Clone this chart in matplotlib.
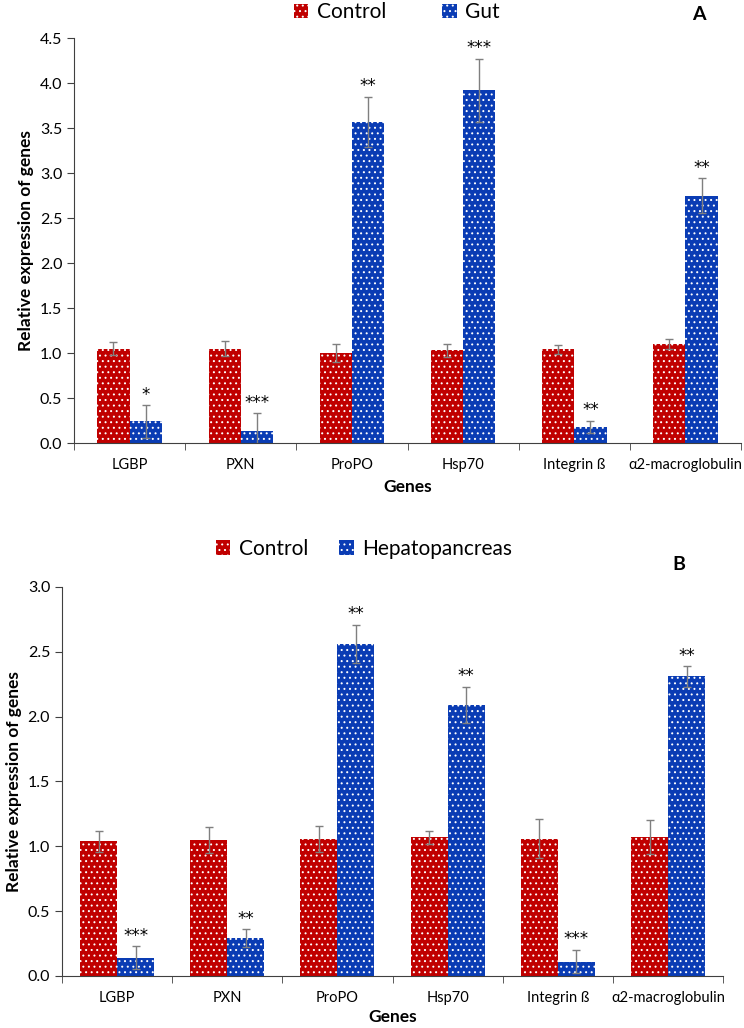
import matplotlib
matplotlib.use("Agg")
import matplotlib.pyplot as plt
import numpy as np

plt.rcParams['font.family'] = ['Lato', 'DejaVu Sans']
plt.rcParams['hatch.linewidth'] = 0.7

genes = ["LGBP", "PXN", "ProPO", "Hsp70", "Integrin ß", "α2-macroglobulin"]

# panel A: gut
ctrl_a = [1.05, 1.05, 1.00, 1.03, 1.04, 1.10]
ctrl_a_err = [0.07, 0.08, 0.10, 0.07, 0.05, 0.06]
gut = [0.24, 0.13, 3.57, 3.92, 0.18, 2.75]
gut_err = [0.18, 0.20, 0.28, 0.35, 0.07, 0.19]
stars_a = ["*", "***", "**", "***", "**", "**"]

# panel B: hepatopancreas
ctrl_b = [1.04, 1.05, 1.06, 1.07, 1.06, 1.07]
ctrl_b_err = [0.08, 0.10, 0.10, 0.05, 0.15, 0.13]
hep = [0.14, 0.29, 2.56, 2.09, 0.11, 2.31]
hep_err = [0.09, 0.07, 0.15, 0.14, 0.09, 0.08]
stars_b = ["***", "**", "**", "**", "***", "**"]

RED = "#C00000"
BLUE = "#0A3CB4"
GREY = "#7F7F7F"

fig = plt.figure(figsize=(7.44, 10.28), dpi=100)


def panel(ax, c, ce, t, te, stars, tlabel, w, ymax, letter, leg_x, leg_y, colsp, letter_xy, xpad):
    x = np.arange(len(genes))
    ax.bar(x - w / 2, c, w, color=RED, edgecolor="white", linewidth=0, hatch="...", label="Control")
    ax.bar(x + w / 2, t, w, color=BLUE, edgecolor="white", linewidth=0, hatch="...", label=tlabel)
    ax.errorbar(x - w / 2, c, yerr=ce, fmt="none", ecolor=GREY, elinewidth=1, capsize=3)
    ax.errorbar(x + w / 2, t, yerr=te, fmt="none", ecolor=GREY, elinewidth=1, capsize=3)
    for i in range(len(genes)):
        ax.text(x[i] + w / 2, t[i] + te[i] + ymax * 0.004, stars[i], ha="center", va="bottom",
                fontsize=12, family="DejaVu Sans")
    ax.set_xlim(-0.5, len(genes) - 0.5)
    ax.set_ylim(0, ymax)
    ticks = np.arange(0, ymax + 0.01, 0.5)
    ax.set_yticks(ticks)
    ax.set_yticklabels(["%.1f" % v for v in ticks], fontsize=11.5)
    ax.set_xticks(x)
    ax.set_xticklabels(genes, fontsize=10.5)
    ax.set_xticks(np.arange(-0.5, len(genes)), minor=True)
    ax.tick_params(axis="x", which="major", length=0, pad=11)
    ax.tick_params(axis="x", which="minor", length=5, color="#404040")
    ax.tick_params(axis="y", length=5, color="#404040")
    for s in ["top", "right"]:
        ax.spines[s].set_visible(False)
    ax.spines["left"].set_color("#404040")
    ax.spines["bottom"].set_color("#404040")
    ax.set_ylabel("Relative expression of genes", fontsize=12.5, fontweight="bold")
    ax.set_xlabel("Genes", fontsize=12.5, fontweight="bold", labelpad=xpad)
    ax.legend(loc="center", bbox_to_anchor=(leg_x, leg_y), ncol=2, frameon=False,
              fontsize=15, handlelength=0.7, handleheight=0.7, columnspacing=colsp,
              handletextpad=0.4)
    fig.text(letter_xy[0], letter_xy[1], letter, fontsize=14, fontweight="bold",
             ha="center", va="center")


ax1 = fig.add_axes([0.0995, 0.569, 0.8965, 0.394])
panel(ax1, ctrl_a, ctrl_a_err, gut, gut_err, stars_a, "Gut", 0.29, 4.5, "A",
      0.484, 1.064, 2.7, (699 / 744, 1 - 14 / 1028), 5)

ax2 = fig.add_axes([0.0833, 0.0506, 0.8887, 0.3784])
panel(ax2, ctrl_b, ctrl_b_err, hep, hep_err, stars_b, "Hepatopancreas", 0.336, 3.0, "B",
      0.457, 1.098, 1.5, (679 / 744, 1 - 565 / 1028), 3)

fig.savefig("out.png", dpi=100)
